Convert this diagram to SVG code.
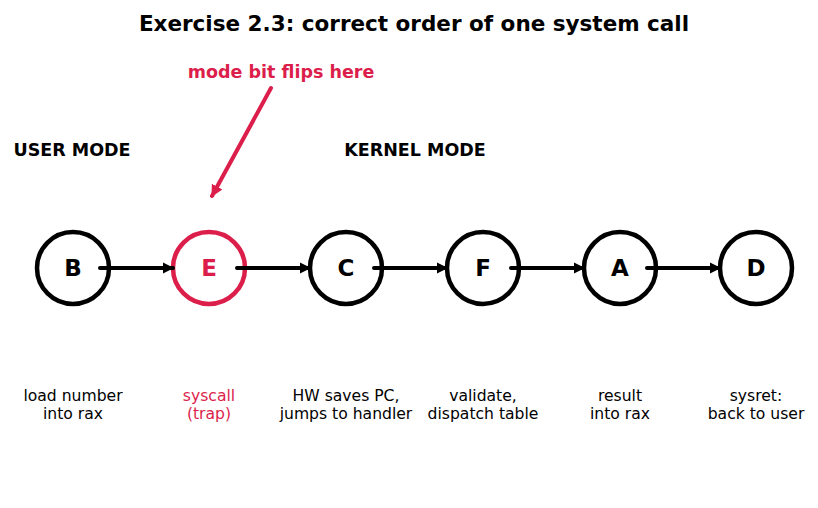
<svg xmlns="http://www.w3.org/2000/svg" width="818" height="508" viewBox="0 0 818 508">
<style>
text{font-family:"DejaVu Sans",sans-serif;text-anchor:middle}
.title{font-size:21.5px;font-weight:bold;fill:#000}
.mode{font-size:17.5px;font-weight:bold;fill:#000}
.node{fill:#fff;stroke:#000;stroke-width:4.5}
.red .node{stroke:#dc1e4b}
.lbl{font-size:23px;font-weight:bold;fill:#000}
.red .lbl{fill:#dc1e4b}
.desc{font-size:15.6px;fill:#000}
.red .desc{fill:#dc1e4b}
.edge{stroke:#000;stroke-width:4;fill:none;stroke-linecap:round}
.ann{stroke:#dc1e4b;stroke-width:4;fill:none;stroke-linecap:round}
</style>
<defs>
<marker id="ah" viewBox="0 0 10 10" refX="9" refY="5" markerWidth="2.8" markerHeight="2.8" orient="auto" markerUnits="strokeWidth">
<path d="M0,0 L10,5 L0,10 z" fill="#000"/>
</marker>
<marker id="ahr" viewBox="0 0 10 10" refX="9" refY="5" markerWidth="3" markerHeight="3" orient="auto" markerUnits="strokeWidth">
<path d="M0,0 L10,5 L0,10 z" fill="#dc1e4b"/>
</marker>
</defs>
<text class="title" x="414" y="31">Exercise 2.3: correct order of one system call</text>
<text class="mode" x="72" y="156">USER MODE</text>
<text class="mode" x="415" y="156">KERNEL MODE</text>
<text x="281" y="78" style="font-size:17.5px;font-weight:bold;fill:#dc1e4b">mode bit flips here</text>
<g id="B"><circle class="node" cx="73" cy="268" r="36"/><text class="lbl" x="73" y="276">B</text><text class="desc" x="73" y="401">load number</text><text class="desc" x="73" y="419">into rax</text></g>
<g id="E" class="red"><circle class="node" cx="209" cy="268" r="36"/><text class="lbl" x="209" y="276">E</text><text class="desc" x="209" y="401">syscall</text><text class="desc" x="209" y="419">(trap)</text></g>
<g id="C"><circle class="node" cx="346" cy="268" r="36"/><text class="lbl" x="346" y="276">C</text><text class="desc" x="346" y="401">HW saves PC,</text><text class="desc" x="346" y="419">jumps to handler</text></g>
<g id="F"><circle class="node" cx="483" cy="268" r="36"/><text class="lbl" x="483" y="276">F</text><text class="desc" x="483" y="401">validate,</text><text class="desc" x="483" y="419">dispatch table</text></g>
<g id="A"><circle class="node" cx="620" cy="268" r="36"/><text class="lbl" x="620" y="276">A</text><text class="desc" x="620" y="401">result</text><text class="desc" x="620" y="419">into rax</text></g>
<g id="D"><circle class="node" cx="756" cy="268" r="36"/><text class="lbl" x="756" y="276">D</text><text class="desc" x="756" y="401">sysret:</text><text class="desc" x="756" y="419">back to user</text></g>
<g id="connectors">
<line class="edge" x1="100" y1="268" x2="173" y2="268" marker-end="url(#ah)"/>
<line class="edge" x1="237" y1="268" x2="310" y2="268" marker-end="url(#ah)"/>
<line class="edge" x1="374" y1="268" x2="447" y2="268" marker-end="url(#ah)"/>
<line class="edge" x1="511" y1="268" x2="584" y2="268" marker-end="url(#ah)"/>
<line class="edge" x1="647" y1="268" x2="720" y2="268" marker-end="url(#ah)"/>
<line class="ann" x1="271" y1="88" x2="212" y2="196" marker-end="url(#ahr)"/>
</g>
</svg>
